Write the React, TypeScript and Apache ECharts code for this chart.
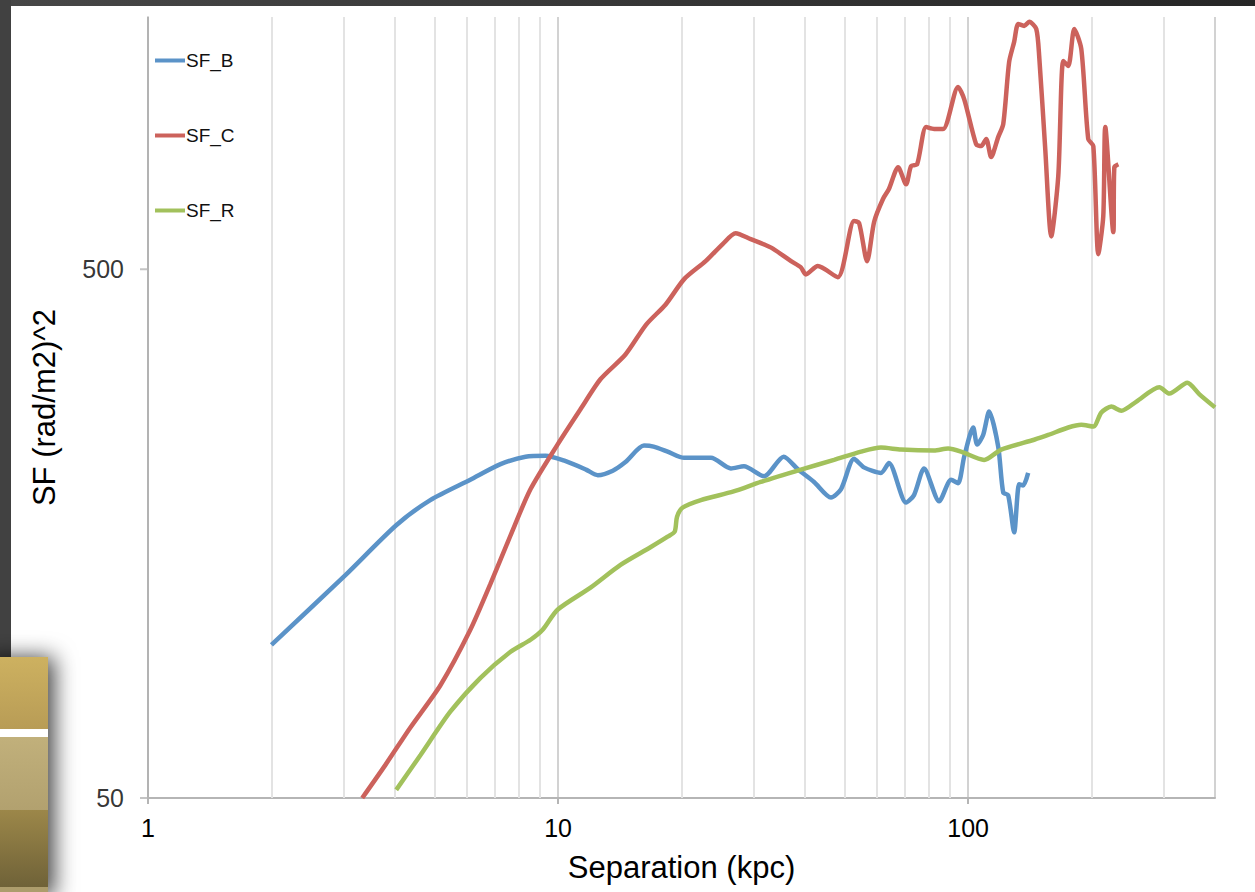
import React, { useEffect, useRef } from "react";
import * as echarts from "echarts";

const FONT = "'Liberation Sans', Arial, Helvetica, sans-serif";

const seriesNames = ["SF_B", "SF_C", "SF_R"];
const seriesColors = ["#5B93C8", "#CC625C", "#A2C15C"];

const blueX = [2, 3.03, 4.03, 4.88, 6.11, 7.24, 8.33, 9.32, 10.4, 11.7, 12.5, 13.6, 14.6, 16.2, 17.1, 18.5, 20.3, 23.6, 26.4, 28.4, 31.8, 35.5, 38.5, 42.1, 46.3, 49.0, 52.7, 55.7, 61.3, 64.1, 70.6, 73.8, 78.1, 85.0, 90.9, 94.5, 97.8, 102.9, 105.2, 108.8, 112.5, 118.4, 121.8, 125.2, 129.5, 133.2, 136.2, 140.1];
const blueY = [97.4, 132, 164, 183, 200, 214, 221, 222, 217, 209, 204, 208, 216, 232, 231, 226, 220, 220, 210, 212, 203, 221, 209, 198, 185, 192, 219, 211, 206, 215, 181, 187, 210, 182, 200, 197, 221, 251, 233, 243, 269, 231, 189, 187, 159, 196, 195, 206];

const redX = [3.33, 3.79, 4.36, 5.17, 6.11, 6.84, 7.66, 8.57, 9.97, 11.35, 12.7, 14.6, 16.4, 18.3, 20.3, 22.9, 25.2, 27.1, 29.5, 33.0, 37.0, 39.1, 40.2, 43.0, 48.1, 52.7, 54.2, 56.7, 59.0, 62.0, 64.1, 67.5, 70.6, 72.6, 75.1, 79.0, 82.6, 86.9, 94.5, 97.8, 104.6, 107.6, 110.7, 113.8, 118.4, 121.8, 125.9, 129.5, 132.5, 137.0, 140.9, 146.6, 149.1, 154.2, 159.5, 165.9, 170.6, 175.5, 181.5, 188.8, 196.3, 202.0, 207.7, 213.6, 216.0, 226.0, 227.3, 232.5];
const redY = [50, 57.7, 67.9, 81.8, 104, 127, 157, 192, 233, 272, 310, 345, 393, 429, 479, 518, 558, 585, 570, 550, 518, 504, 489, 507, 483, 617, 612, 518, 615, 679, 709, 780, 724, 784, 790, 929, 921, 921, 1106, 1049, 862, 855, 882, 815, 889, 941, 1233, 1346, 1455, 1443, 1469, 1424, 1260, 844, 577, 750, 1239, 1212, 1424, 1305, 882, 855, 534, 630, 929, 588, 780, 790];

const greenX = [4.03, 4.62, 5.46, 6.47, 7.66, 8.57, 9.17, 9.97, 12.0, 14.2, 16.8, 18.5, 19.25, 19.5, 20.1, 22.3, 26.8, 31.2, 39.1, 47.1, 54.8, 61.3, 68.6, 82.6, 89.4, 96.1, 109.4, 120.4, 144.9, 156.8, 175.5, 188.8, 202, 211.3, 223.5, 236.4, 257.3, 292.7, 309.6, 342.5, 366.6, 400];
const greenY = [51.8, 60.3, 72.8, 84.4, 94.5, 99.6, 104, 113.5, 125, 138, 149, 156, 159.5, 170, 177, 183, 190, 198, 209, 218, 226, 230, 228, 227, 229, 226, 218, 228, 238, 243, 251, 254, 252, 268, 275, 270, 281, 299, 291, 305, 290, 274];

const xMin = 1;
const xMax = 400;
const yMin = 50;
const yMax = 1500;
const yTickValues = [50, 500];
const minorGridX = [2, 3, 4, 5, 6, 7, 8, 9, 20, 30, 40, 50, 60, 70, 80, 90, 200, 300];

const xTitle = "Separation (kpc)";
const yTitle = "SF (rad/m2)^2";

function pairs(xs: number[], ys: number[]) {
  return xs.map((x, i) => [x, ys[i]]);
}

export default function App() {
  const ref = useRef<HTMLDivElement>(null);

  useEffect(() => {
    document.body.style.margin = "0";
    if (!ref.current) return;
    const chart = echarts.init(ref.current, null, { renderer: "svg" });

    const lineSeries = [pairs(blueX, blueY), pairs(redX, redY), pairs(greenX, greenY)].map((d, i) => ({
      type: "line",
      name: seriesNames[i],
      data: d,
      smooth: 0.25,
      showSymbol: false,
      symbol: "none",
      z: 3,
      lineStyle: { color: seriesColors[i], width: 4.5 },
      itemStyle: { color: seriesColors[i] },
    }));

    const option: any = {
      animation: false,
      backgroundColor: "#ffffff",
      textStyle: { fontFamily: FONT },
      graphic: [
        {
          type: "rect",
          shape: { x: 0, y: 0, width: 1255, height: 6 },
          style: {
            fill: new echarts.graphic.LinearGradient(0, 0, 1, 0, [
              { offset: 0, color: "#474747" },
              { offset: 1, color: "#262626" },
            ]),
          },
          silent: true,
        },
        {
          type: "rect",
          shape: { x: 0, y: 0, width: 11, height: 657 },
          style: { fill: "#414141" },
          silent: true,
        },
        {
          type: "rect",
          shape: { x: -20, y: 657, width: 68, height: 240 },
          style: {
            fill: "#b8a36a",
            shadowBlur: 22,
            shadowColor: "rgba(0,0,0,0.75)",
            shadowOffsetX: 6,
            shadowOffsetY: 0,
          },
          silent: true,
        },
        {
          type: "rect",
          shape: { x: 0, y: 657, width: 48, height: 72 },
          style: {
            fill: new echarts.graphic.LinearGradient(0, 0, 0, 1, [
              { offset: 0, color: "#cdb160" },
              { offset: 1, color: "#b89c56" },
            ]),
          },
          silent: true,
        },
        {
          type: "rect",
          shape: { x: 0, y: 729, width: 48, height: 8 },
          style: { fill: "#ffffff" },
          silent: true,
        },
        {
          type: "rect",
          shape: { x: 0, y: 737, width: 48, height: 73 },
          style: {
            fill: new echarts.graphic.LinearGradient(0, 0, 0, 1, [
              { offset: 0, color: "#c1b07b" },
              { offset: 1, color: "#b2a16f" },
            ]),
          },
          silent: true,
        },
        {
          type: "rect",
          shape: { x: 0, y: 810, width: 48, height: 77 },
          style: {
            fill: new echarts.graphic.LinearGradient(0, 0, 0, 1, [
              { offset: 0, color: "#9c8749" },
              { offset: 1, color: "#6f6238" },
            ]),
          },
          silent: true,
        },
        {
          type: "rect",
          shape: { x: 0, y: 887, width: 48, height: 5 },
          style: { fill: "#ad9d6c" },
          silent: true,
        },
      ],
      legend: {
        data: seriesNames,
        orient: "vertical",
        left: 150,
        top: 46,
        itemGap: 56,
        itemWidth: 30,
        itemHeight: 4,
        icon: "rect",
        textStyle: { fontSize: 19, color: "#111", fontFamily: FONT, padding: [0, 0, 0, -4] },
      },
      grid: { left: 148, right: 40, top: 17, bottom: 94, containLabel: false },
      xAxis: {
        type: "log",
        logBase: 10,
        min: xMin,
        max: xMax,
        name: xTitle,
        nameLocation: "middle",
        nameGap: 54,
        nameTextStyle: { fontSize: 31, color: "#000", fontFamily: FONT },
        axisLine: { show: true, lineStyle: { color: "#b5b5b5", width: 2 } },
        axisTick: { show: true, length: 6, lineStyle: { color: "#b5b5b5", width: 2 } },
        axisLabel: {
          fontSize: 25,
          color: "#000",
          margin: 17,
          fontFamily: FONT,
          showMaxLabel: false,
        },
        splitLine: { show: true, lineStyle: { color: "#d2d2d2", width: 2 } },
      },
      yAxis: {
        type: "log",
        logBase: 10,
        min: yMin,
        max: yMax,
        name: yTitle,
        nameLocation: "middle",
        nameGap: 88,
        nameTextStyle: { fontSize: 31, color: "#000", fontFamily: FONT },
        axisLine: { show: true, lineStyle: { color: "#a8a8a8", width: 1.5 } },
        axisTick: { show: false },
        axisLabel: { show: false },
        splitLine: { show: false },
      },
      series: [
        {
          type: "scatter",
          name: "yticks",
          data: yTickValues.map((v) => [xMin, v]),
          symbol: "rect",
          symbolSize: [8, 2],
          symbolOffset: [-4, 0],
          itemStyle: { color: "#b5b5b5" },
          clip: false,
          silent: true,
          z: 1,
          label: {
            show: true,
            position: "left",
            distance: 16,
            fontSize: 25,
            color: "#000",
            fontFamily: FONT,
            formatter: (p: any) => String(p.value[1]),
          },
          markLine: {
            silent: true,
            z: 1,
            symbol: ["none", "none"],
            label: { show: false },
            lineStyle: { color: "#e3e3e3", width: 2, type: "solid" },
            data: minorGridX.map((v) => ({ xAxis: v })),
          },
        },
        ...lineSeries,
      ],
    };

    chart.setOption(option);
    return () => chart.dispose();
  }, []);

  return <div ref={ref} style={{ width: 1255, height: 892 }} />;
}
